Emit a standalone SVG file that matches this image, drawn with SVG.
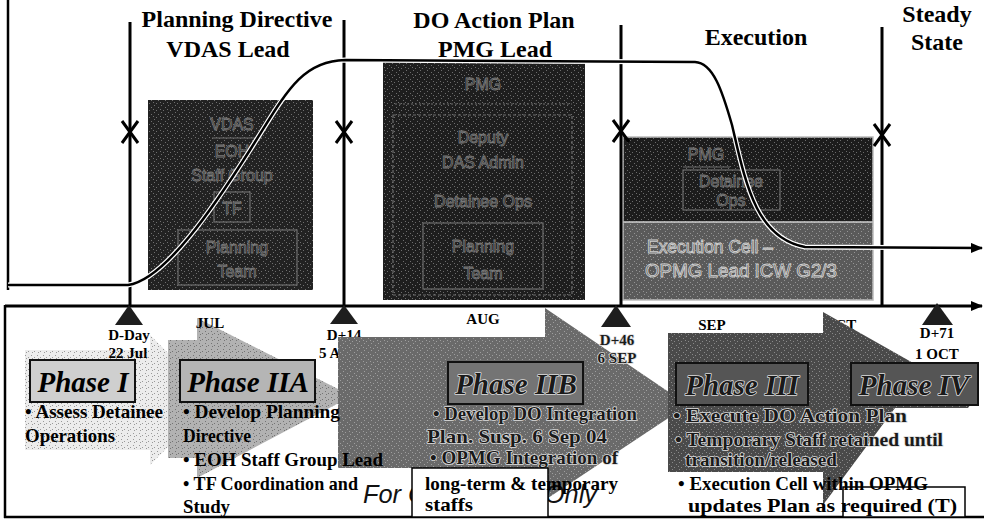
<svg xmlns="http://www.w3.org/2000/svg" width="984" height="524" viewBox="0 0 984 524">
<defs>
<marker id="ah" markerWidth="12" markerHeight="10" refX="11" refY="5" orient="auto" markerUnits="userSpaceOnUse"><path d="M0,0 L12,5 L0,10 Z" fill="#000"/></marker>
<pattern id="spk" width="7" height="7" patternUnits="userSpaceOnUse">
<rect x="0" y="0" width="1" height="1" fill="#fff"/>
<rect x="4" y="2" width="1" height="1" fill="#fff"/>
<rect x="2" y="5" width="1" height="1" fill="#fff"/>
<rect x="6" y="4" width="1" height="1" fill="#fff"/>
</pattern>
<pattern id="spkd" width="6" height="6" patternUnits="userSpaceOnUse">
<rect x="1" y="1" width="1" height="1" fill="#000"/>
<rect x="4" y="3" width="1" height="1" fill="#000"/>
<rect x="2" y="4" width="1" height="1" fill="#000"/>
</pattern>
</defs>
<style>
.hdr{font-family:"Liberation Serif","Times New Roman",serif;font-weight:bold;font-size:24px;fill:#000;text-anchor:middle}
.ms{font-family:"Liberation Serif","Times New Roman",serif;font-weight:bold;font-size:15px;fill:#000;text-anchor:middle}
.ph{font-family:"Liberation Serif","Times New Roman",serif;font-weight:bold;font-style:italic;font-size:29px;text-anchor:middle;fill:#000}
.b{font-family:"Liberation Serif","Times New Roman",serif;font-weight:bold;font-size:19px;fill:#000}
.halo{fill:#1a1a1a;stroke:#dcdcdc;stroke-width:1.6px;paint-order:stroke;stroke-linejoin:round}
.in{font-family:"Liberation Sans",Arial,sans-serif;font-size:16px;fill:#1e1e1e;stroke:#7a7a7a;stroke-width:0.8px;text-anchor:middle}
.ex{font-family:"Liberation Sans",Arial,sans-serif;font-size:18px;fill:#4a4a4a;stroke:#d0d0d0;stroke-width:0.9px}
.il{stroke:#6e6e6e;stroke-width:1.2;fill:none}
.vl{stroke:#000;stroke-width:3;fill:none}
.frame{stroke:#000;stroke-width:2.5;fill:none}
.tri{fill:#1e1e1e}
.pbox{stroke:#111;stroke-width:2}
.sp{fill:url(#spk);opacity:0.35}
.spd{fill:url(#spkd);opacity:0.35}
</style>

<g id="box-vdas">
<rect x="148" y="100" width="165" height="190" fill="#222"/>
<rect class="sp" x="148" y="100" width="165" height="190"/>
<text class="in" x="232" y="130">VDAS</text>
<line class="il" x1="212" y1="138" x2="262" y2="138"/>
<text class="in" x="232" y="157" font-size="14">EOH</text>
<text class="in" x="232" y="181">Staff Group</text>
<rect class="il" x="214" y="192" width="36" height="30"/>
<text class="in" x="232" y="214">TF</text>
<rect class="il" x="178" y="230" width="119" height="55"/>
<text class="in" x="237" y="253">Planning</text>
<text class="in" x="237" y="277">Team</text>
</g>

<g id="box-pmg">
<rect x="383" y="60" width="202" height="240" fill="#1e1e1e"/>
<rect class="sp" x="383" y="60" width="202" height="240"/>
<text class="in" x="483" y="90" font-size="18">PMG</text>
<line class="il" x1="395" y1="104" x2="572" y2="104" stroke-dasharray="2 2"/>
<rect class="il" x="393" y="115" width="179" height="180" stroke-dasharray="3 2"/>
<text class="in" x="483" y="143">Deputy</text>
<text class="in" x="483" y="168">DAS Admin</text>
<text class="in" x="483" y="207">Detainee Ops</text>
<rect class="il" x="423" y="223" width="120" height="66"/>
<text class="in" x="483" y="252">Planning</text>
<text class="in" x="483" y="279">Team</text>
</g>

<g id="box-exec">
<rect x="623" y="137" width="250" height="85" fill="#1c1c1c"/>
<rect x="623" y="222" width="250" height="78" fill="#5a5a5a"/>
<rect class="sp" x="623" y="137" width="250" height="163"/>
<line x1="623" y1="222" x2="873" y2="222" stroke="#cfcfcf" stroke-width="1.5"/>
<rect x="623" y="137" width="250" height="163" fill="none" stroke="#bbb" stroke-width="1.5"/>
<text class="in" x="706" y="160">PMG</text>
<line class="il" x1="683" y1="167" x2="730" y2="167"/>
<rect class="il" x="683" y="170" width="97" height="40"/>
<text class="in" x="731" y="187">Detainee</text>
<text class="in" x="731" y="206">Ops</text>
<text class="ex" x="647" y="253" textLength="126" lengthAdjust="spacingAndGlyphs">Execution Cell –</text>
<text class="ex" x="645" y="277" textLength="192" lengthAdjust="spacingAndGlyphs">OPMG Lead ICW G2/3</text>
</g>

<g id="milestone-lines">
<line class="vl" x1="130" y1="22" x2="130" y2="305"/>
<line class="vl" x1="344" y1="20" x2="344" y2="305"/>
<line class="vl" x1="621" y1="25" x2="621" y2="305"/>
<line class="vl" x1="882" y1="27" x2="882" y2="305"/>
<path class="vl" d="M122,121 L138,143 M138,121 L122,143"/>
<path class="vl" d="M336,121 L352,143 M352,121 L336,143"/>
<path class="vl" d="M613,120 L629,142 M629,120 L613,142"/>
<path class="vl" d="M874,124 L890,146 M890,124 L874,146"/>
</g>

<g id="connectors">
<line class="frame" x1="8" y1="0" x2="8" y2="290"/>
<path d="M8,285 H128 C165,280 215,205 250,150 C285,95 300,61 345,60 L695,62 C713,63 722,90 732,125 C745,180 755,238 805,247 L982,248" fill="none" stroke="#fff" stroke-width="5"/>
<path d="M8,285 H128 C165,280 215,205 250,150 C285,95 300,61 345,60 L695,62 C713,63 722,90 732,125 C745,180 755,238 805,247 L982,248" fill="none" stroke="#000" stroke-width="2.5" marker-end="url(#ah)"/>
<line x1="5" y1="306" x2="982" y2="306" stroke="#000" stroke-width="3" marker-end="url(#ah)"/>
<line class="frame" x1="5" y1="305" x2="5" y2="518"/>
<line class="frame" x1="4" y1="517" x2="984" y2="517"/>
</g>

<g id="headers">
<text class="hdr" x="237" y="27">Planning Directive</text>
<text class="hdr" x="228" y="57">VDAS Lead</text>
<text class="hdr" x="494" y="28">DO Action Plan</text>
<text class="hdr" x="495" y="57">PMG Lead</text>
<text class="hdr" x="756" y="45">Execution</text>
<text class="hdr" x="937" y="22">Steady</text>
<text class="hdr" x="937" y="50">State</text>
</g>

<g id="timeline-labels">
<path class="tri" d="M129,305 L115,325 L143,325 Z"/>
<path class="tri" d="M344,305 L330,324 L358,324 Z"/>
<path class="tri" d="M616,305 L601,327 L631,327 Z"/>
<path class="tri" d="M937,303 L922,325 L953,325 Z"/>
<text class="ms" x="129" y="340">D-Day</text>
<text class="ms" x="344" y="340">D+14</text>
<text class="ms" x="341" y="358">5 AUG</text>
<text class="ms" x="483" y="324">AUG</text>
<text class="ms" x="712" y="330">SEP</text>
<text class="ms" x="840" y="330">OCT</text>
<text class="ms" x="937" y="338">D+71</text>
<text class="ms" x="937" y="359">1 OCT</text>
</g>

<g id="phase-arrows">
<path d="M25,350 H150 V335 L215,400 L150,465 V450 H25 Z" fill="#ececec"/>
<path class="spd" d="M25,350 H150 V335 L215,400 L150,465 V450 H25 Z"/>
<path d="M168,340 H197 V318 L352,396 L197,478 V458 H168 Z" fill="#b2b2b2"/>
<path class="spd" d="M168,340 H197 V318 L352,396 L197,478 V458 H168 Z"/>
<path d="M338,337 H545 V308 L688,405 L545,500 V468 H338 Z" fill="#6a6a6a"/>
<path class="sp" d="M338,337 H545 V308 L688,405 L545,500 V468 H338 Z"/>
<path d="M668,333 H823 V312 L975,398 L968,408 L895,408 L823,505 V472 H668 Z" fill="#4a4a4a"/>
<path class="sp" d="M668,333 H823 V312 L975,398 L968,408 L895,408 L823,505 V472 H668 Z"/>
</g>

<g id="labels-over">
<text class="ms" x="210" y="328">JUL</text>
<text class="ms" x="128" y="358">22 Jul</text>
<text class="ms halo" x="617" y="345">D+46</text>
<text class="ms halo" x="617" y="363">6 SEP</text>
</g>

<g id="watermark">
<text x="363" y="503" font-family="'Liberation Sans',Arial,sans-serif" font-style="italic" font-size="25" fill="#111" textLength="234" lengthAdjust="spacingAndGlyphs">For Official Use Only</text>
</g>

<g id="phase-1">
<rect class="pbox" x="30" y="360" width="105" height="42" fill="#cfcfcf"/>
<text class="ph" x="83" y="392">Phase I</text>
<text class="b" x="25" y="418" textLength="138" lengthAdjust="spacingAndGlyphs">• Assess Detainee</text>
<text class="b" x="25" y="442" textLength="90" lengthAdjust="spacingAndGlyphs">Operations</text>
</g>

<g id="phase-2a">
<rect class="pbox" x="180" y="360" width="135" height="42" fill="#b5b5b5"/>
<text class="ph" x="248" y="392">Phase IIA</text>
<text class="b" x="183" y="418" textLength="157" lengthAdjust="spacingAndGlyphs">• Develop Planning</text>
<text class="b" x="183" y="442" textLength="68" lengthAdjust="spacingAndGlyphs">Directive</text>
<text class="b" x="183" y="466" textLength="200" lengthAdjust="spacingAndGlyphs">• EOH Staff Group Lead</text>
<text class="b" x="183" y="490" textLength="175" lengthAdjust="spacingAndGlyphs">• TF Coordination and</text>
<text class="b" x="183" y="513" textLength="47" lengthAdjust="spacingAndGlyphs">Study</text>
</g>

<g id="phase-2b">
<rect class="pbox" x="448" y="362" width="135" height="42" fill="#747474"/>
<text class="ph halo" x="516" y="394">Phase IIB</text>
<text class="b halo" x="433" y="420" textLength="204" lengthAdjust="spacingAndGlyphs">• Develop DO Integration</text>
<text class="b halo" x="427" y="443" textLength="180" lengthAdjust="spacingAndGlyphs">Plan. Susp. 6 Sep 04</text>
<text class="b halo" x="430" y="464" textLength="188" lengthAdjust="spacingAndGlyphs">• OPMG Integration of</text>
<rect x="412" y="468" width="136" height="49" fill="#fff" stroke="#000" stroke-width="1.5"/>
<text class="b" x="425" y="490" textLength="193" lengthAdjust="spacingAndGlyphs">long-term &amp; temporary</text>
<text class="b" x="425" y="511" textLength="48" lengthAdjust="spacingAndGlyphs">staffs</text>
</g>

<g id="phase-3">
<rect class="pbox" x="676" y="363" width="132" height="42" fill="#555"/>
<text class="ph halo" x="742" y="395">Phase III</text>
<text class="b halo" x="673" y="422" textLength="234" lengthAdjust="spacingAndGlyphs">• Execute DO Action Plan</text>
<text class="b halo" x="675" y="446" textLength="268" lengthAdjust="spacingAndGlyphs">• Temporary Staff retained until</text>
<text class="b halo" x="685" y="466" textLength="152" lengthAdjust="spacingAndGlyphs">transition/released</text>
<rect x="843" y="487" width="122" height="30" fill="#fff" stroke="#000" stroke-width="1.5"/>
<text class="b" x="678" y="490" textLength="250" lengthAdjust="spacingAndGlyphs">• Execution Cell within OPMG</text>
<text class="b" x="688" y="512" textLength="269" lengthAdjust="spacingAndGlyphs">updates Plan as required (T)</text>
</g>

<g id="phase-4">
<rect class="pbox" x="851" y="363" width="127" height="42" fill="#555"/>
<text class="ph halo" x="914" y="395">Phase IV</text>
</g>
</svg>
